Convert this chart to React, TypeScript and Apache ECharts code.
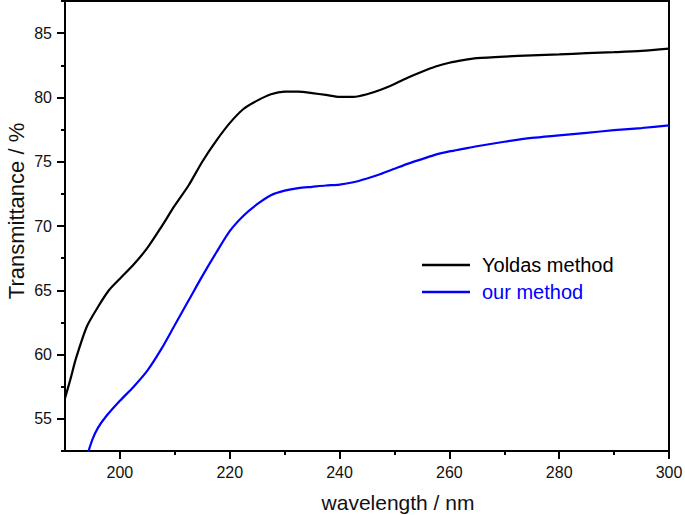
import React, { useEffect, useRef } from "react";
import * as echarts from "echarts";

const wavelengthYoldas = [190, 191, 192, 194, 196, 198, 200, 202.5, 205, 207.5, 210, 212.5, 215, 217.5, 220, 222.5, 225, 227.5, 230, 232.5, 235, 237.5, 240, 242.5, 245, 247.5, 250, 252.5, 255, 257.5, 260, 262.5, 265, 270, 275, 280, 285, 290, 295, 300];
const transmittanceYoldas = [56.6, 58.1, 59.7, 62.2, 63.7, 65.0, 65.9, 67.0, 68.3, 69.9, 71.6, 73.15, 75.0, 76.6, 78.0, 79.1, 79.75, 80.25, 80.45, 80.45, 80.33, 80.2, 80.05, 80.05, 80.25, 80.6, 81.05, 81.55, 82.0, 82.4, 82.7, 82.9, 83.05, 83.18, 83.27, 83.35, 83.44, 83.52, 83.62, 83.8];

const wavelengthOurs = [194, 195, 196, 197.5, 200, 202.5, 205, 207.5, 210, 212.5, 215, 217.5, 220, 222.5, 225, 227.5, 230, 232.5, 235, 237.5, 240, 242.5, 245, 247.5, 250, 252.5, 255, 257.5, 260, 262.5, 265, 270, 275, 280, 285, 290, 295, 300];
const transmittanceOurs = [52.1, 53.4, 54.3, 55.2, 56.4, 57.5, 58.75, 60.4, 62.3, 64.2, 66.1, 67.9, 69.6, 70.8, 71.7, 72.4, 72.75, 72.95, 73.05, 73.15, 73.22, 73.4, 73.7, 74.05, 74.45, 74.85, 75.2, 75.55, 75.8, 76.0, 76.2, 76.55, 76.85, 77.05, 77.25, 77.45, 77.62, 77.82];

const seriesNames = ["Yoldas method", "our method"];
const seriesColors = ["#000000", "#0000ff"];

const xMajorTicks = [200, 220, 240, 260, 280, 300];
const xMinorTicks = [210, 230, 250, 270, 290];
const yMajorTicks = [55, 60, 65, 70, 75, 80, 85];
const yMinorTicks = [52.5, 57.5, 62.5, 67.5, 72.5, 77.5, 82.5, 87.5];

const X_MIN = 190, X_MAX = 300, Y_MIN = 52.5, Y_MAX = 87.5;
const FONT = "Liberation Sans, Arial, sans-serif";

export default function App() {
  const ref = useRef<HTMLDivElement>(null);
  useEffect(() => {
    if (!ref.current) return;
    const chart = echarts.init(ref.current, null, { renderer: "svg" });
    const axisLine = { show: true, lineStyle: { color: "#000", width: 2 } };
    const mkX = (ticks: number[], len: number, labels: boolean, name?: string) => ({
      type: "value", min: X_MIN, max: X_MAX, position: "bottom",
      axisLine: labels ? axisLine : { show: false },
      axisTick: { show: true, inside: false, length: len, customValues: ticks, lineStyle: { color: "#000", width: 2 } },
      axisLabel: labels ? { show: true, customValues: ticks, margin: 13, fontSize: 16, color: "#111", fontFamily: FONT } : { show: false },
      splitLine: { show: false },
      name: name, nameLocation: "middle", nameGap: 41,
      nameTextStyle: { fontSize: 21, color: "#111", fontFamily: FONT, padding: [0, 0, 0, 62] },
    });
    const mkY = (ticks: number[], len: number, labels: boolean, name?: string) => ({
      type: "value", min: Y_MIN, max: Y_MAX, position: "left",
      axisLine: labels ? axisLine : { show: false },
      axisTick: { show: true, inside: false, length: len, customValues: ticks, lineStyle: { color: "#000", width: 2 } },
      axisLabel: labels ? { show: true, customValues: ticks, margin: 13, fontSize: 16, color: "#111", fontFamily: FONT } : { show: false },
      splitLine: { show: false },
      name: name, nameLocation: "middle", nameGap: 38, nameMoveOverlap: false,
      nameTextStyle: { fontSize: 22, color: "#111", fontFamily: FONT, padding: [0, 0, 0, 30] },
    });
    chart.setOption({
      animation: false,
      backgroundColor: "#fff",
      grid: { left: 65, right: 16, top: 1, bottom: 64, show: true, borderColor: "#000", borderWidth: 2, containLabel: false, outerBoundsMode: "none" },
      legend: {
        orient: "vertical", left: 417, top: 250, itemWidth: 48, itemHeight: 2.5, itemGap: 7, icon: "rect",
        data: seriesNames.map((n, i) => ({ name: n, textStyle: { color: seriesColors[i] }, itemStyle: { color: seriesColors[i] } })),
        textStyle: { fontSize: 20, fontFamily: FONT, padding: [0, 0, 0, 7] },
      },
      xAxis: [mkX(xMajorTicks, 8, true, "wavelength / nm"), mkX(xMinorTicks, 4, false)],
      yAxis: [mkY(yMajorTicks, 8, true, "Transmittance / %"), mkY(yMinorTicks, 4, false)],
      series: [
        {
          name: seriesNames[0], type: "line", symbol: "none", showSymbol: false, smooth: 0.25, clip: true,
          xAxisIndex: 0, yAxisIndex: 0,
          lineStyle: { color: seriesColors[0], width: 2.2 }, itemStyle: { color: seriesColors[0] },
          data: wavelengthYoldas.map((w, i) => [w, transmittanceYoldas[i]]),
        },
        {
          name: seriesNames[1], type: "line", symbol: "none", showSymbol: false, smooth: 0.25, clip: true,
          xAxisIndex: 0, yAxisIndex: 0,
          lineStyle: { color: seriesColors[1], width: 2.2 }, itemStyle: { color: seriesColors[1] },
          data: wavelengthOurs.map((w, i) => [w, transmittanceOurs[i]]),
        },
      ],
    });
    return () => chart.dispose();
  }, []);
  return <div ref={ref} style={{ position: "fixed", left: 0, top: 0, width: 685, height: 515 }} />;
}
